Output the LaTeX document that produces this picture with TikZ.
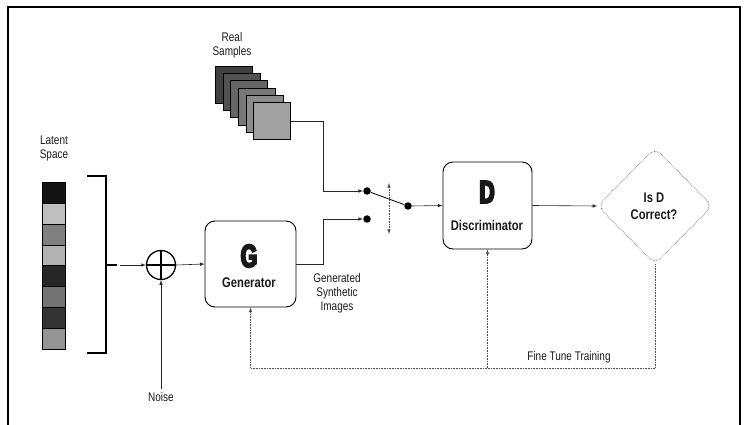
\documentclass[tikz,border=0pt]{standalone}
\usepackage{fontspec}
\setmainfont{Liberation Sans}[FakeStretch=0.8]
\newfontfamily\bigfont{Liberation Sans}[FakeStretch=0.66,FakeBold=6]
\usetikzlibrary{calc}
\usetikzlibrary{shapes,arrows}

\begin{document}
\begin{tikzpicture}[x=1pt,y=-1pt,
    box/.style={draw,rounded corners=10pt,line width=0.9pt,minimum width=91pt,minimum height=86pt},
    dot/.style={circle,fill,inner sep=0pt,minimum size=7.5pt},
    lbl/.style={align=center,text=black!90,font=\fontsize{12.5}{14}\selectfont},
    blbl/.style={text=black!90,font=\fontsize{14}{17}\selectfont\bfseries},
    big/.style={text=black!90,font=\fontsize{32}{32}\selectfont\bigfont\bfseries},
    link/.style={line width=0.6pt,black!85,-latex},
    fine/.style={line width=0.6pt,black!70,densely dotted}]
    \useasboundingbox (0,0) rectangle (745,425);
    \draw[line width=2pt] (8,425) -- (8,7) -- (740,7) -- (740,425);

    \coordinate (C1) at (323,191);
    \coordinate (C2) at (323,219);
    \coordinate (FT) at (655,368);

    \foreach \c [count=\i from 0] in {black!92,black!25,black!50,black!30,black!85,black!55,black!80,black!42}
        \draw[fill=\c,line width=0.4pt] (42,182+20.9*\i) rectangle (65,202.9+20.9*\i);
    \foreach \c [count=\i from 0] in {black!75,black!68,black!60,black!53,black!45,black!37}
        \node[draw,fill=\c,line width=0.8pt,minimum size=37pt,inner sep=0pt] (s\i) at (234+7.6*\i,85+7.2*\i) {};

    \node[lbl] (lat) at (54,148) {Latent\\Space};
    \node[lbl] (rs) at (232,45) {Real\\Samples};

    \draw[line width=2pt] (87,176) -- (106,176) -- (106,353) -- (87,353);
    \draw[line width=2pt] (106,265) -- (117,265);
    \coordinate (LS) at (120,265);

    \node[circle,draw,line width=1.3pt,minimum size=29pt,inner sep=0pt] (add) at (161,265) {};
    \draw[line width=1.3pt] (add.north) -- (add.south);
    \draw[line width=1.3pt] (add.west) -- (add.east);
    \node[lbl] (noise) at (161,397) {Noise};

    \node[box] (gen) at (250.5,264) {};
    \node[big] (G) at (249,256) {G};
    \node[blbl] (Gt) at (249,283) {Generator};
    \node[lbl] (syn) at (337,293) {Generated\\Synthetic\\Images};

    \node[dot] (d1) at (367,191) {};
    \node[dot] (d2) at (367,219) {};
    \node[dot] (d3) at (408,206) {};
    \coordinate (V1) at (389,183);
    \coordinate (V2) at (389,234);

    \node[box,minimum width=89pt,minimum height=87pt] (dis) at (487.5,205.5) {};
    \node[big] (D) at (487,192) {D};
    \node[blbl] (Dt) at (487,225) {Discriminator};

    \node[diamond,draw,fine,rounded corners=8pt,minimum width=115pt,minimum height=116pt,inner sep=0pt] (cor) at (655,206) {};
    \node[blbl,align=center] (Ct) at (654,206) {Is D\\Correct?};
    \node[lbl] (ftl) at (569,357) {Fine Tune Training};

    \draw[link] (LS) -- (add.west);
    \draw[link] (add.east) -- (gen.west);
    \draw[link] (noise.north) -- (add.south);
    \draw[link] (s5.east) -| (C1) -- (d1.west);
    \draw[link] (gen.east) -| (C2) -- (d2.west);
    \draw[line width=0.8pt] (d1) -- (d3);
    \draw[fine,latex-latex] (V1) -- (V2);
    \draw[link] (d3.east) -- (dis.west);
    \draw[link] (dis.east) -- (cor.west);
    \draw[fine,-latex] (cor.south) -- (FT) -| (gen.south);
    \draw[fine,-latex] (dis.south |- FT) -- (dis.south);
\end{tikzpicture}
\end{document}
